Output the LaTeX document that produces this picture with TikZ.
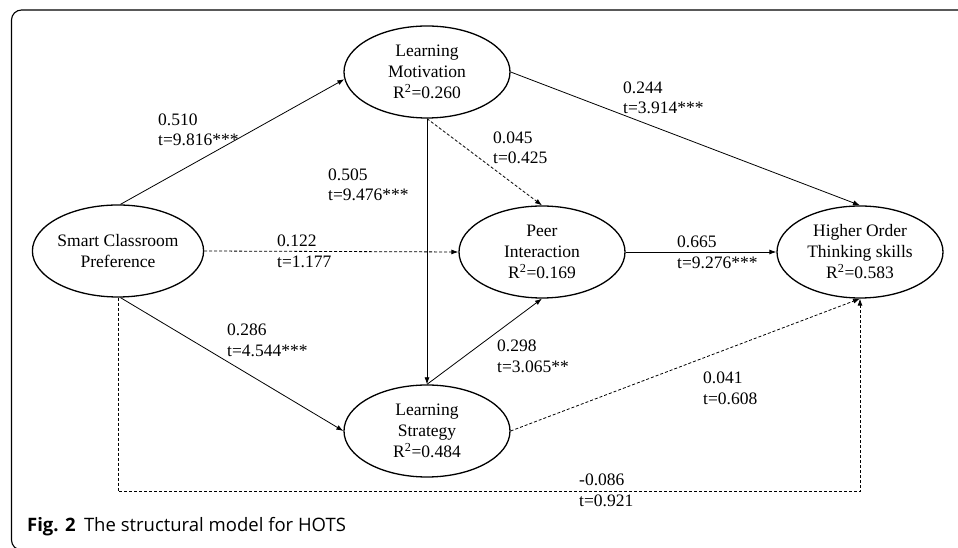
\documentclass[tikz,border=0pt]{standalone}
\usepackage{fontspec}
\setmainfont{Liberation Serif}
\setsansfont{Open Sans}
\usetikzlibrary{
	shapes.geometric,
	arrows.meta
}
\tikzset{
	latent/.style={
		draw,ellipse,line width=1.3pt,
		minimum width=166pt,minimum height=92pt,
		inner sep=0pt,align=center,
		font=\fontsize{17.5}{21}\selectfont
	},
	coef/.style={
		anchor=west,inner sep=0pt,align=left,
		font=\fontsize{17.5}{20.5}\selectfont
	},
	every edge/.append style={
		-{Latex[length=7pt,width=5pt]},line width=0.8pt
	},
	nonsig/.style={dash pattern=on 3pt off 2pt}
}

\begin{document}
\begin{tikzpicture}[x=1pt,y=1pt]
		\useasboundingbox (0,0) rectangle (958,548);
		\draw[line width=1.1pt,rounded corners=10pt] (970,538) -- (11.5,538) -- (11.5,-2) -- (970,-2);
		\draw
			node[latent] (scp)  at (118,297) {Smart Classroom\\Preference}
			node[latent] (lm)   at (427,476) {Learning\\Motivation\\R\textsuperscript{2}=0.260}
			node[latent] (pi)   at (542,296) {Peer\\Interaction\\R\textsuperscript{2}=0.169}
			node[latent] (hots) at (860,296) {Higher Order\\Thinking skills\\R\textsuperscript{2}=0.583}
			node[latent] (ls)   at (427,117) {Learning\\Strategy\\R\textsuperscript{2}=0.484}

			node[coef] (c1)  at (158,418)   {0.510\\t=9.816***}
			node[coef] (c2)  at (328,363)   {0.505\\t=9.476***}
			node[coef] (c3)  at (277,296.5) {0.122\\t=1.177}
			node[coef] (c4)  at (623,450)   {0.244\\t=3.914***}
			node[coef] (c5)  at (493,400)   {0.045\\t=0.425}
			node[coef] (c6)  at (677,295.5) {0.665\\t=9.276***}
			node[coef] (c7)  at (227,207.5) {0.286\\t=4.544***}
			node[coef] (c8)  at (497,191.5) {0.298\\t=3.065**}
			node[coef] (c9)  at (703,159.5) {0.041\\t=0.608}
			node[coef] (c10) at (579,57.5)  {-0.086\\t=0.921}

			(scp.87) edge (lm.185)
			(scp.east) edge[nonsig] (pi.west)
			(scp.273) edge (ls.west)
			(scp.south) edge[nonsig,to path={-- ++(0,-194) -| (\tikztotarget)}] (hots.south)
			(lm.south) edge (ls.north)
			(lm.south) edge[nonsig] (pi.north)
			(lm.east) edge (hots.north)
			(pi.east) edge (hots.west)
			(ls.north) edge (pi.south)
			(ls.east) edge[nonsig] (hots.south)
		;
		\node[anchor=west,inner sep=0pt,font=\sffamily\fontsize{18.5}{21}\selectfont] (cap) at (27,21)
			{\textbf{Fig. 2}\hspace{0.45em}The structural model for HOTS};
	\end{tikzpicture}
\end{document}
